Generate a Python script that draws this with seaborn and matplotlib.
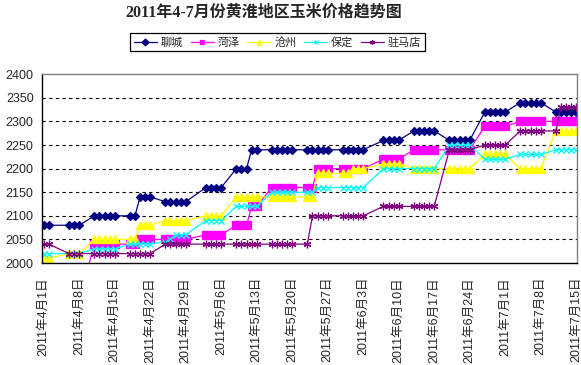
import pandas as pd
import seaborn as sns
import matplotlib
matplotlib.use("Agg")
from matplotlib import pyplot as plt

# 交易日（2011年）
dates = [
    "04-01", "04-02",
    "04-06", "04-07", "04-08",
    "04-11", "04-12", "04-13", "04-14", "04-15",
    "04-18", "04-19", "04-20", "04-21", "04-22",
    "04-25", "04-26", "04-27", "04-28", "04-29",
    "05-03", "05-04", "05-05", "05-06",
    "05-09", "05-10", "05-11", "05-12", "05-13",
    "05-16", "05-17", "05-18", "05-19", "05-20",
    "05-23", "05-24", "05-25", "05-26", "05-27",
    "05-30", "05-31", "06-01", "06-02", "06-03",
    "06-07", "06-08", "06-09", "06-10",
    "06-13", "06-14", "06-15", "06-16", "06-17",
    "06-20", "06-21", "06-22", "06-23", "06-24",
    "06-27", "06-28", "06-29", "06-30", "07-01",
    "07-04", "07-05", "07-06", "07-07", "07-08",
    "07-11", "07-12", "07-13", "07-14", "07-15",
]

liaocheng = [
    2080, 2080,
    2080, 2080, 2080,
    2100, 2100, 2100, 2100, 2100,
    2100, 2100, 2140, 2140, 2140,
    2130, 2130, 2130, 2130, 2130,
    2160, 2160, 2160, 2160,
    2200, 2200, 2200, 2240, 2240,
    2240, 2240, 2240, 2240, 2240,
    2240, 2240, 2240, 2240, 2240,
    2240, 2240, 2240, 2240, 2240,
    2260, 2260, 2260, 2260,
    2280, 2280, 2280, 2280, 2280,
    2260, 2260, 2260, 2260, 2260,
    2320, 2320, 2320, 2320, 2320,
    2340, 2340, 2340, 2340, 2340,
    2320, 2320, 2320, 2320, 2320,
]

heze = [
    1920, 1920,
    1920, 1920, 1920,
    2040, 2040, 2040, 2040, 2040,
    2040, 2040, 2050, 2050, 2050,
    2050, 2050, 2050, 2050, 2050,
    2060, 2060, 2060, 2060,
    2080, 2080, 2080, 2120, 2120,
    2160, 2160, 2160, 2160, 2160,
    2160, 2160, 2200, 2200, 2200,
    2200, 2200, 2200, 2200, 2200,
    2220, 2220, 2220, 2220,
    2240, 2240, 2240, 2240, 2240,
    2240, 2240, 2240, 2240, 2240,
    2290, 2290, 2290, 2290, 2290,
    2300, 2300, 2300, 2300, 2300,
    2300, 2300, 2300, 2300, 2300,
]

cangzhou = [
    2010, 2010,
    2020, 2020, 2020,
    2050, 2050, 2050, 2050, 2050,
    2050, 2050, 2080, 2080, 2080,
    2090, 2090, 2090, 2090, 2090,
    2100, 2100, 2100, 2100,
    2140, 2140, 2140, 2140, 2140,
    2140, 2140, 2140, 2140, 2140,
    2140, 2140, 2190, 2190, 2190,
    2190, 2190, 2200, 2200, 2200,
    2210, 2210, 2210, 2210,
    2200, 2200, 2200, 2200, 2200,
    2200, 2200, 2200, 2200, 2200,
    2230, 2230, 2230, 2230, 2230,
    2200, 2200, 2200, 2200, 2200,
    2280, 2280, 2280, 2280, 2280,
]

baoding = [
    2020, 2020,
    2020, 2020, 2020,
    2030, 2030, 2030, 2030, 2030,
    2040, 2040, 2040, 2040, 2040,
    2045, 2050, 2060, 2060, 2060,
    2090, 2090, 2090, 2090,
    2120, 2120, 2120, 2120, 2120,
    2150, 2150, 2150, 2150, 2150,
    2150, 2150, 2160, 2160, 2160,
    2160, 2160, 2160, 2160, 2160,
    2200, 2200, 2200, 2200,
    2200, 2200, 2200, 2200, 2200,
    2250, 2250, 2250, 2250, 2250,
    2220, 2220, 2220, 2220, 2220,
    2230, 2230, 2230, 2230, 2230,
    2240, 2240, 2240, 2240, 2240,
]

zhumadian = [
    2040, 2040,
    2020, 2020, 2020,
    2020, 2020, 2020, 2020, 2020,
    2020, 2020, 2020, 2020, 2020,
    2040, 2040, 2040, 2040, 2040,
    2040, 2040, 2040, 2040,
    2040, 2040, 2040, 2040, 2040,
    2040, 2040, 2040, 2040, 2040,
    2040, 2100, 2100, 2100, 2100,
    2100, 2100, 2100, 2100, 2100,
    2120, 2120, 2120, 2120,
    2120, 2120, 2120, 2120, 2120,
    2240, 2240, 2240, 2240, 2240,
    2250, 2250, 2250, 2250, 2250,
    2280, 2280, 2280, 2280, 2280,
    2280, 2330, 2330, 2330, 2330,
]

series_names = ["聊城", "菏泽", "沧州", "保定", "驻马店"]
series_values = [liaocheng, heze, cangzhou, baoding, zhumadian]
colors = ["#000080", "#FF00FF", "#FFFF00", "#00FFFF", "#800080"]
markers = ["D", "s", "^", "x", (6, 2, 0)]
msizes = [4.2, 5.5, 5.5, 4.5, 5.5]

sns.set_style("white")
plt.rcParams['font.family'] = ['Liberation Sans', 'Noto Sans CJK SC']
plt.rcParams['axes.unicode_minus'] = False

dt = pd.to_datetime(["2011-" + d for d in dates])

fig = plt.figure(figsize=(5.81, 3.65), dpi=100)
ax = fig.add_axes([42 / 581, 1 - 263 / 365, (577 - 42) / 581, (263 - 74.3) / 365])

for name, vals, c, m, ms in zip(series_names, series_values, colors, markers, msizes):
    df = pd.DataFrame({"date": dt, "price": vals})
    sns.lineplot(x="date", y="price", data=df, ax=ax, color=c, marker=m,
                 markersize=ms, markeredgecolor=c, markerfacecolor=c,
                 markeredgewidth=0.9, linewidth=0.9, label=name)

# 坐标轴
ax.set_ylim(2000, 2400)
ax.set_yticks(range(2000, 2401, 50))
start = pd.Timestamp("2011-04-01")
end = pd.Timestamp("2011-07-15")
ax.set_xlim(start - pd.Timedelta(hours=8), end + pd.Timedelta(hours=4))
xt = pd.date_range(start, end, freq="7D")
ax.set_xticks(xt)
ax.set_xticklabels([f"2011年{d.month}月{d.day}日" for d in xt], rotation=90, fontsize=9)
ax.tick_params(axis="y", labelsize=9, direction="out", length=4, width=0.8, color="black", pad=2)
ax.tick_params(axis="x", direction="out", length=4, width=0.8, color="black", pad=6)
ax.set_xlabel("")
ax.set_ylabel("")

for v in range(2050, 2400, 50):
    ax.axhline(v, color="black", linestyle=(0, (3, 3)), linewidth=0.8, zorder=0)

for s in ["left", "bottom"]:
    ax.spines[s].set_color("black")
    ax.spines[s].set_linewidth(1.0)
for s in ["top", "right"]:
    ax.spines[s].set_color("#808080")
    ax.spines[s].set_linewidth(1.0)

# 标题和图例
fig.text(264 / 581, 1 - 13 / 365, "2011年4-7月份黄淮地区玉米价格趋势图",
         ha="center", va="center", fontsize=11.5, fontweight="bold",
         family=['Liberation Serif', 'Noto Sans CJK SC'])

leg = ax.legend(loc="center", bbox_to_anchor=(277.5 / 581, 1 - 42 / 365),
                bbox_transform=fig.transFigure, ncol=5, fontsize=8,
                frameon=True, fancybox=False, framealpha=1, edgecolor="black",
                handlelength=2.1, handletextpad=0.35, columnspacing=0.65,
                borderpad=0.3, borderaxespad=0)
leg.get_frame().set_linewidth(0.9)
for h in leg.legend_handles:
    h.set_markersize(3.5)

fig.savefig("out.png", dpi=100)
